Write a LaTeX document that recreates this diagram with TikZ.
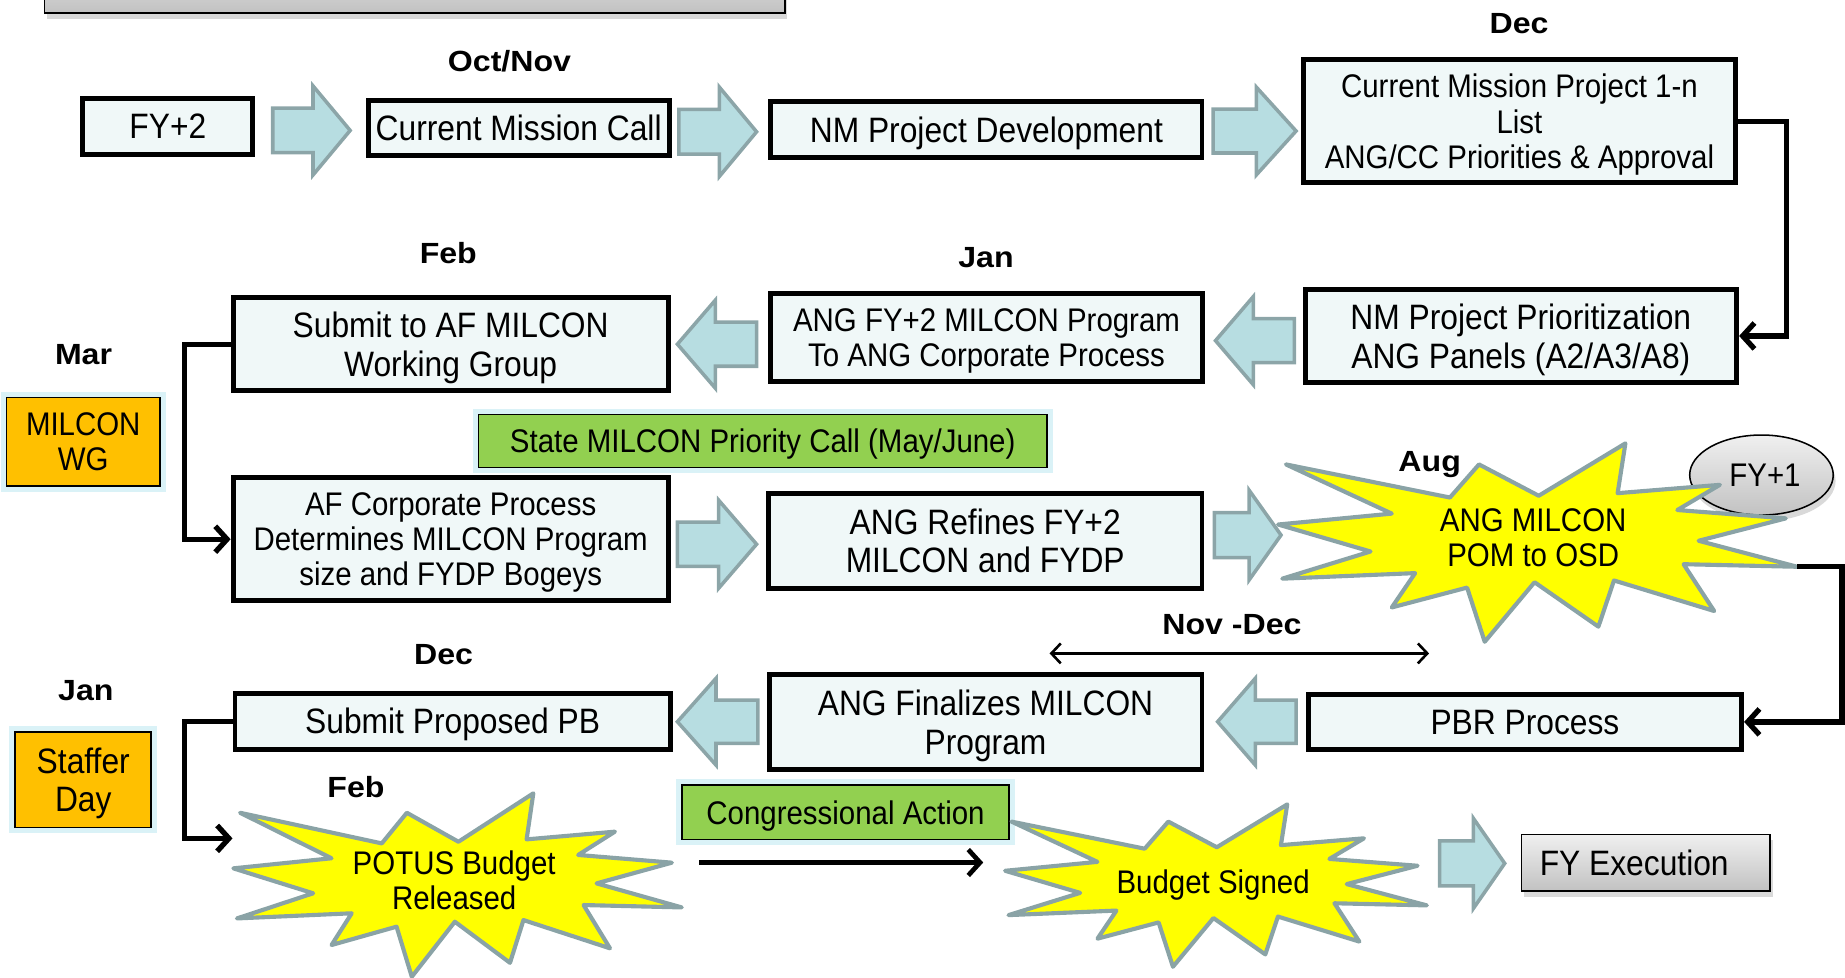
\documentclass[tikz,border=0pt]{standalone}
\usepackage{fontspec}
\setmainfont{Liberation Sans}[FakeStretch=0.9]
\newfontfamily\monthfont{Liberation Sans}[FakeStretch=1.1]
\usetikzlibrary{arrows.meta,shadows,shapes.geometric}
\definecolor{boxfill}{RGB}{240,248,248}
\definecolor{arrfill}{RGB}{183,221,225}
\definecolor{arrline}{RGB}{140,165,168}
\definecolor{burstline}{RGB}{138,163,166}
\definecolor{orangef}{RGB}{255,192,0}
\definecolor{greenf}{RGB}{146,208,80}
\definecolor{glowc}{RGB}{218,242,247}
\definecolor{burstfill}{RGB}{255,255,0}
\newcommand\rarr[4]{\begin{scope}[shift={(#1,#2)},xscale={#3-#1},yscale={#4-#2}]
 \draw[blk] (0,.25)--(.52,.25)--(.52,0)--(1,.5)--(.52,1)--(.52,.75)--(0,.75)--cycle;\end{scope}}
\newcommand\larr[4]{\begin{scope}[shift={(#1,#2)},xscale={#3-#1},yscale={#4-#2}]
 \draw[blk] (1,.25)--(.48,.25)--(.48,0)--(0,.5)--(.48,1)--(.48,.75)--(1,.75)--cycle;\end{scope}}
\newcommand\burstshape[4]{\begin{scope}[shift={(#1,#2)},xscale=#3,yscale=#4]
 \draw[burst] (0.015,0.106) -- (0.331,0.273) -- (0.387,0.106) -- (0.502,0.264) -- (0.669,0.000) -- (0.654,0.251) -- (0.851,0.209) -- (0.769,0.336) -- (0.978,0.378) -- (0.810,0.491) -- (1.000,0.622) -- (0.781,0.609) -- (0.840,0.845) -- (0.647,0.691) -- (0.617,0.924) -- (0.494,0.700) -- (0.398,1.000) -- (0.364,0.727) -- (0.219,0.827) -- (0.264,0.654) -- (0.008,0.682) -- (0.178,0.545) -- (0.000,0.409) -- (0.219,0.354) -- cycle;\end{scope}}
\begin{document}
\begin{tikzpicture}[x=1pt,y=-1pt,
 big/.style={font=\fontsize{30}{33}\selectfont},
 small/.style={font=\fontsize{27.8}{30}\selectfont},
 month/.style={font=\monthfont\bfseries\fontsize{24.8}{27}\selectfont,text depth=0pt,inner sep=0pt},
 procbox/.style={draw=black,line width=4.2pt,fill=boxfill,align=center,inner sep=0pt,text depth=0pt},
 notebox/.style={preaction={draw=glowc,line width=10pt},draw=black,line width=1.3pt,align=center,inner sep=0pt,text depth=0pt},
 graybox/.style={draw=black,line width=1.3pt,top color=black!6,bottom color=black!24,align=center,inner sep=0pt,text depth=0pt,
   drop shadow={shadow xshift=2pt,shadow yshift=-5pt,opacity=0.3}},
 blk/.style={fill=arrfill,draw=arrline,line width=3pt},
 burst/.style={fill=burstfill,draw=burstline,line width=3.5pt,line join=round},
 conn/.style={draw=black,line width=4.5pt,-{Straight Barb[length=10pt,width=22pt]}},
 btext/.style={small,align=center,inner sep=0pt,text depth=0pt}]
\useasboundingbox (0,0) rectangle (1568,831);
\clip (0,0) rectangle (1568,831);

% top bar (cut off)
\node[graybox,minimum width=629pt,minimum height=60pt] (topbar) at (352.5,-19) {};

% month labels
\node[month] (m1) at (433,52) {Oct/Nov};
\node[month] (m2) at (1291,20) {Dec};
\node[month] (m3) at (381,215) {Feb};
\node[month] (m4) at (838,219) {Jan};
\node[month] (m5) at (71,301) {Mar};
\node[month] (m6) at (1215,392) {Aug};
\node[month] (m7) at (1047,531) {Nov -Dec};
\node[month] (m8) at (377,556) {Dec};
\node[month] (m9) at (73,587) {Jan};
\node[month] (m10) at (302.5,669) {Feb};

% process boxes
\node[procbox,big,minimum width=144.5pt,minimum height=46.8pt] (fy2) at (142.65,107.5) {FY+2};
\node[procbox,big,minimum width=255.8pt,minimum height=47.4pt] (cmc) at (440.8,108.8) {Current Mission Call};
\node[procbox,big,minimum width=366.4pt,minimum height=47.8pt] (nmpd) at (838.3,110) {NM Project Development};
\node[procbox,small,minimum width=367.2pt,minimum height=104.3pt] (cmp) at (1291.3,103) {Current Mission Project 1-n\\List\\ANG/CC Priorities \& Approval};
\node[procbox,big,minimum width=366.8pt,minimum height=78.8pt] (nmpp) at (1292.5,285.5) {NM Project Prioritization\\ANG Panels (A2/A3/A8)};
\node[procbox,small,minimum width=367pt,minimum height=75.2pt] (angfy) at (838.4,286.7) {ANG FY+2 MILCON Program\\To ANG Corporate Process};
\node[procbox,big,minimum width=369.8pt,minimum height=79.4pt] (saf) at (383,292.5) {Submit to AF MILCON\\Working Group};
\node[procbox,small,minimum width=369.8pt,minimum height=104.9pt] (afc) at (383,458.25) {AF Corporate Process\\Determines MILCON Program\\size and FYDP Bogeys};
\node[procbox,big,minimum width=368.4pt,minimum height=80.8pt] (angref) at (837.3,459.5) {ANG Refines FY+2\\MILCON and FYDP};
\node[procbox,big,minimum width=370pt,minimum height=47.6pt] (spb) at (384.7,612.9) {Submit Proposed PB};
\node[procbox,big,minimum width=367.9pt,minimum height=80.8pt] (angfin) at (837.55,613.5) {ANG Finalizes MILCON\\Program};
\node[procbox,big,minimum width=368.3pt,minimum height=47.1pt] (pbr) at (1296,613.5) {PBR Process};

% note boxes
\node[notebox,small,fill=greenf,minimum width=482.9pt,minimum height=45pt] (state) at (648.2,374.75) {State MILCON Priority Call (May/June)};
\node[notebox,small,fill=greenf,minimum width=277.7pt,minimum height=45.9pt] (congress) at (718.6,690.3) {Congressional Action};
\node[notebox,small,fill=orangef,minimum width=130.2pt,minimum height=75.1pt] (milconwg) at (70.75,375.3) {MILCON\\WG};
\node[notebox,big,fill=orangef,minimum width=115.6pt,minimum height=81.2pt] (staffer) at (70.75,662.65) {Staffer\\Day};

% gray items
\node[graybox,big,minimum width=211.2pt,minimum height=48pt] (fyexec) at (1398.85,733.05) {\hspace*{-20pt}FY Execution};
\node[graybox,small,ellipse,minimum width=122pt,minimum height=68pt] (fy1) at (1497,403.7) {\hspace*{6pt}FY+1};

% block arrows
\rarr{231.8}{73}{297.6}{148.7}
\rarr{577}{74}{643}{150}
\rarr{1031}{74}{1101.5}{148.7}
\larr{1033}{252}{1100}{327}
\larr{575.7}{255}{643}{330}
\rarr{575.7}{425}{643}{500}
\rarr{1032}{416.5}{1088.7}{493}
\larr{1034.8}{576.5}{1101.5}{650.2}
\larr{575.7}{576.5}{644}{650.2}
\rarr{1223.4}{695.5}{1278.8}{772}

% bursts
\burstshape{1086.2}{376.8}{441.2}{168.6}
\burstshape{198.3}{674.2}{381.1}{155.9}
\burstshape{854.2}{683.6}{358.4}{138}
\node[btext] (aug) at (1303,457) {ANG MILCON\\POM to OSD};
\node[btext] (potus) at (386,748) {POTUS Budget\\Released};
\node[btext] (signed) at (1031,749) {Budget Signed};

% connectors
\coordinate (augtip) at (1527.4,481.7);
\coordinate (potusin) at (197.6,712.5);
\coordinate (ca) at (594.3,733);
\coordinate (cb) at (835.6,733);
\coordinate (nd1) at (892,555.3);
\coordinate (nd2) at (1214.5,555.3);
\draw[conn] (cmp.east) -- ++(41,0) |- (nmpp.east);
\draw[conn] (saf.west) -- ++(-39.5,0) |- (afc.west);
\draw[conn] (augtip) -- ++(38,0) |- (pbr.east);
\draw[conn] (spb.west) -- ++(-41,0) |- (potusin);
\draw[conn,line width=4pt] (ca) -- (cb);
\draw[line width=2.2pt,{Straight Barb[length=8pt,width=17pt]}-{Straight Barb[length=8pt,width=17pt]}] (nd1) -- (nd2);
\end{tikzpicture}
\end{document}
